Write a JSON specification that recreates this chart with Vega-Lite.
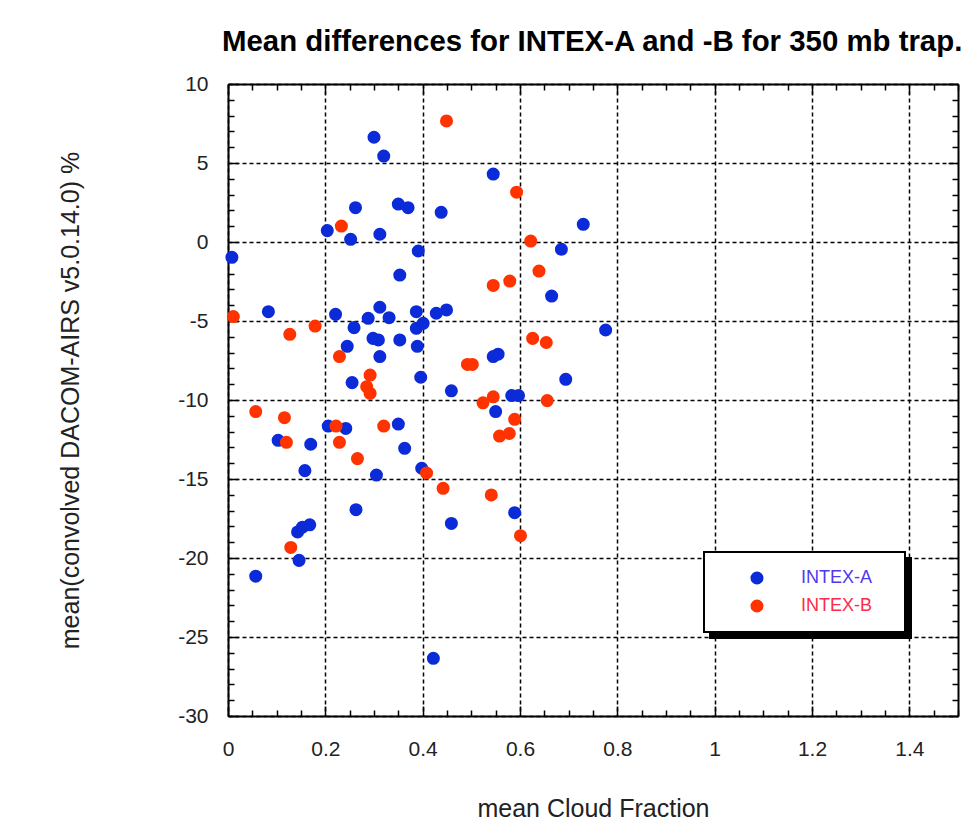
{
  "$schema": "https://vega.github.io/schema/vega-lite/v6.json",
  "width": 730,
  "height": 632,
  "autosize": {"type": "none"},
  "padding": {"left": 228, "top": 84, "right": 6, "bottom": 119},
  "background": "white",
  "title": {
    "text": "Mean differences for INTEX-A and -B for 350 mb trap.",
    "anchor": "start",
    "frame": "group",
    "font": "Liberation Sans",
    "fontSize": 29.4,
    "fontWeight": "bold",
    "color": "black",
    "baseline": "alphabetic",
    "dx": -6,
    "offset": -7
  },
  "config": {
    "view": {"stroke": null},
    "axis": {"labelFont": "Liberation Sans", "titleFont": "Liberation Sans"},
    "legend": {"labelFont": "Liberation Sans", "titleFont": "Liberation Sans"}
  },
  "data": {
    "values": [
      {"campaign": "INTEX-A", "cloud_fraction": 0.008, "mean_diff": -0.97},
      {"campaign": "INTEX-A", "cloud_fraction": 0.057, "mean_diff": -21.15},
      {"campaign": "INTEX-A", "cloud_fraction": 0.083, "mean_diff": -4.41},
      {"campaign": "INTEX-A", "cloud_fraction": 0.103, "mean_diff": -12.55},
      {"campaign": "INTEX-A", "cloud_fraction": 0.143, "mean_diff": -18.35},
      {"campaign": "INTEX-A", "cloud_fraction": 0.146, "mean_diff": -20.15},
      {"campaign": "INTEX-A", "cloud_fraction": 0.153, "mean_diff": -18.05},
      {"campaign": "INTEX-A", "cloud_fraction": 0.158, "mean_diff": -14.47},
      {"campaign": "INTEX-A", "cloud_fraction": 0.168, "mean_diff": -17.9},
      {"campaign": "INTEX-A", "cloud_fraction": 0.17, "mean_diff": -12.8},
      {"campaign": "INTEX-A", "cloud_fraction": 0.204, "mean_diff": 0.72},
      {"campaign": "INTEX-A", "cloud_fraction": 0.206, "mean_diff": -11.65},
      {"campaign": "INTEX-A", "cloud_fraction": 0.221, "mean_diff": -4.58},
      {"campaign": "INTEX-A", "cloud_fraction": 0.242, "mean_diff": -11.8},
      {"campaign": "INTEX-A", "cloud_fraction": 0.245, "mean_diff": -6.6},
      {"campaign": "INTEX-A", "cloud_fraction": 0.252, "mean_diff": 0.17},
      {"campaign": "INTEX-A", "cloud_fraction": 0.255, "mean_diff": -8.9},
      {"campaign": "INTEX-A", "cloud_fraction": 0.259, "mean_diff": -5.42},
      {"campaign": "INTEX-A", "cloud_fraction": 0.262, "mean_diff": 2.17},
      {"campaign": "INTEX-A", "cloud_fraction": 0.263, "mean_diff": -16.94},
      {"campaign": "INTEX-A", "cloud_fraction": 0.288, "mean_diff": -4.83},
      {"campaign": "INTEX-A", "cloud_fraction": 0.298, "mean_diff": -6.1},
      {"campaign": "INTEX-A", "cloud_fraction": 0.3, "mean_diff": 6.63},
      {"campaign": "INTEX-A", "cloud_fraction": 0.305, "mean_diff": -14.75},
      {"campaign": "INTEX-A", "cloud_fraction": 0.309, "mean_diff": -6.2},
      {"campaign": "INTEX-A", "cloud_fraction": 0.312, "mean_diff": 0.49},
      {"campaign": "INTEX-A", "cloud_fraction": 0.312, "mean_diff": -4.13},
      {"campaign": "INTEX-A", "cloud_fraction": 0.312, "mean_diff": -7.25},
      {"campaign": "INTEX-A", "cloud_fraction": 0.32, "mean_diff": 5.44},
      {"campaign": "INTEX-A", "cloud_fraction": 0.331, "mean_diff": -4.79},
      {"campaign": "INTEX-A", "cloud_fraction": 0.35, "mean_diff": 2.4},
      {"campaign": "INTEX-A", "cloud_fraction": 0.35, "mean_diff": -11.52},
      {"campaign": "INTEX-A", "cloud_fraction": 0.353, "mean_diff": -2.09},
      {"campaign": "INTEX-A", "cloud_fraction": 0.353, "mean_diff": -6.2},
      {"campaign": "INTEX-A", "cloud_fraction": 0.363, "mean_diff": -13.06},
      {"campaign": "INTEX-A", "cloud_fraction": 0.37, "mean_diff": 2.17},
      {"campaign": "INTEX-A", "cloud_fraction": 0.387, "mean_diff": -4.41},
      {"campaign": "INTEX-A", "cloud_fraction": 0.387, "mean_diff": -5.46},
      {"campaign": "INTEX-A", "cloud_fraction": 0.389, "mean_diff": -6.6},
      {"campaign": "INTEX-A", "cloud_fraction": 0.391, "mean_diff": -0.57},
      {"campaign": "INTEX-A", "cloud_fraction": 0.396, "mean_diff": -8.56},
      {"campaign": "INTEX-A", "cloud_fraction": 0.398, "mean_diff": -14.32},
      {"campaign": "INTEX-A", "cloud_fraction": 0.401, "mean_diff": -5.15},
      {"campaign": "INTEX-A", "cloud_fraction": 0.422, "mean_diff": -26.35},
      {"campaign": "INTEX-A", "cloud_fraction": 0.428, "mean_diff": -4.51},
      {"campaign": "INTEX-A", "cloud_fraction": 0.438, "mean_diff": 1.88},
      {"campaign": "INTEX-A", "cloud_fraction": 0.449, "mean_diff": -4.3},
      {"campaign": "INTEX-A", "cloud_fraction": 0.459, "mean_diff": -9.42},
      {"campaign": "INTEX-A", "cloud_fraction": 0.459, "mean_diff": -17.81},
      {"campaign": "INTEX-A", "cloud_fraction": 0.545, "mean_diff": 4.3},
      {"campaign": "INTEX-A", "cloud_fraction": 0.545, "mean_diff": -7.25},
      {"campaign": "INTEX-A", "cloud_fraction": 0.555, "mean_diff": -7.1},
      {"campaign": "INTEX-A", "cloud_fraction": 0.55, "mean_diff": -10.73},
      {"campaign": "INTEX-A", "cloud_fraction": 0.583, "mean_diff": -9.72},
      {"campaign": "INTEX-A", "cloud_fraction": 0.597, "mean_diff": -9.72},
      {"campaign": "INTEX-A", "cloud_fraction": 0.589, "mean_diff": -17.13},
      {"campaign": "INTEX-A", "cloud_fraction": 0.665, "mean_diff": -3.42},
      {"campaign": "INTEX-A", "cloud_fraction": 0.685, "mean_diff": -0.46},
      {"campaign": "INTEX-A", "cloud_fraction": 0.694, "mean_diff": -8.69},
      {"campaign": "INTEX-A", "cloud_fraction": 0.73, "mean_diff": 1.12},
      {"campaign": "INTEX-A", "cloud_fraction": 0.776, "mean_diff": -5.57},
      {"campaign": "INTEX-B", "cloud_fraction": 0.011, "mean_diff": -4.72},
      {"campaign": "INTEX-B", "cloud_fraction": 0.057, "mean_diff": -10.73},
      {"campaign": "INTEX-B", "cloud_fraction": 0.116, "mean_diff": -11.12},
      {"campaign": "INTEX-B", "cloud_fraction": 0.12, "mean_diff": -12.68},
      {"campaign": "INTEX-B", "cloud_fraction": 0.127, "mean_diff": -5.84},
      {"campaign": "INTEX-B", "cloud_fraction": 0.129, "mean_diff": -19.33},
      {"campaign": "INTEX-B", "cloud_fraction": 0.179, "mean_diff": -5.32},
      {"campaign": "INTEX-B", "cloud_fraction": 0.222, "mean_diff": -11.65},
      {"campaign": "INTEX-B", "cloud_fraction": 0.229, "mean_diff": -12.68},
      {"campaign": "INTEX-B", "cloud_fraction": 0.229, "mean_diff": -7.25},
      {"campaign": "INTEX-B", "cloud_fraction": 0.233, "mean_diff": 1.01},
      {"campaign": "INTEX-B", "cloud_fraction": 0.266, "mean_diff": -13.71},
      {"campaign": "INTEX-B", "cloud_fraction": 0.285, "mean_diff": -9.16},
      {"campaign": "INTEX-B", "cloud_fraction": 0.292, "mean_diff": -8.42},
      {"campaign": "INTEX-B", "cloud_fraction": 0.292, "mean_diff": -9.58},
      {"campaign": "INTEX-B", "cloud_fraction": 0.32, "mean_diff": -11.65},
      {"campaign": "INTEX-B", "cloud_fraction": 0.408, "mean_diff": -14.62},
      {"campaign": "INTEX-B", "cloud_fraction": 0.442, "mean_diff": -15.59},
      {"campaign": "INTEX-B", "cloud_fraction": 0.449, "mean_diff": 7.66},
      {"campaign": "INTEX-B", "cloud_fraction": 0.492, "mean_diff": -7.75},
      {"campaign": "INTEX-B", "cloud_fraction": 0.502, "mean_diff": -7.75},
      {"campaign": "INTEX-B", "cloud_fraction": 0.524, "mean_diff": -10.18},
      {"campaign": "INTEX-B", "cloud_fraction": 0.541, "mean_diff": -16.01},
      {"campaign": "INTEX-B", "cloud_fraction": 0.545, "mean_diff": -2.75},
      {"campaign": "INTEX-B", "cloud_fraction": 0.545, "mean_diff": -9.8},
      {"campaign": "INTEX-B", "cloud_fraction": 0.558, "mean_diff": -12.28},
      {"campaign": "INTEX-B", "cloud_fraction": 0.578, "mean_diff": -12.12},
      {"campaign": "INTEX-B", "cloud_fraction": 0.579, "mean_diff": -2.47},
      {"campaign": "INTEX-B", "cloud_fraction": 0.589, "mean_diff": -11.22},
      {"campaign": "INTEX-B", "cloud_fraction": 0.593, "mean_diff": 3.15},
      {"campaign": "INTEX-B", "cloud_fraction": 0.601, "mean_diff": -18.59},
      {"campaign": "INTEX-B", "cloud_fraction": 0.622, "mean_diff": 0.06},
      {"campaign": "INTEX-B", "cloud_fraction": 0.626, "mean_diff": -6.1},
      {"campaign": "INTEX-B", "cloud_fraction": 0.639, "mean_diff": -1.84},
      {"campaign": "INTEX-B", "cloud_fraction": 0.654, "mean_diff": -6.36},
      {"campaign": "INTEX-B", "cloud_fraction": 0.656, "mean_diff": -10.04}
    ]
  },
  "resolve": {"axis": {"x": "independent", "y": "independent"}},
  "layer": [
    {
      "mark": {"type": "point", "filled": true, "opacity": 1, "size": 170, "strokeWidth": 0},
      "encoding": {
        "x": {
          "field": "cloud_fraction",
          "type": "quantitative",
          "scale": {"domain": [0, 1.5], "nice": false, "zero": false},
          "axis": {
            "orient": "bottom",
            "title": "mean Cloud Fraction",
            "titleFontSize": 25,
            "titleFontWeight": "normal",
            "titleColor": "#222",
            "titlePadding": 37,
            "values": [0, 0.2, 0.4, 0.6, 0.8, 1, 1.2, 1.4],
            "labelExpr": "'' + datum.value",
            "labelFontSize": 21,
            "labelColor": "#222",
            "labelPadding": 22,
            "labelFlush": false,
            "labelOverlap": false,
            "ticks": false,
            "domain": true,
            "domainColor": "black",
            "domainWidth": 2,
            "grid": true,
            "gridColor": "black",
            "gridWidth": 1.5,
            "gridDash": [4, 3]
          }
        },
        "y": {
          "field": "mean_diff",
          "type": "quantitative",
          "scale": {"domain": [-30, 10], "nice": false, "zero": false},
          "axis": {
            "orient": "left",
            "title": "mean(convolved DACOM-AIRS v5.0.14.0) %",
            "titleFontSize": 25,
            "titleFontWeight": "normal",
            "titleColor": "#222",
            "titlePadding": 94,
            "values": [-30, -25, -20, -15, -10, -5, 0, 5, 10],
            "labelExpr": "'' + datum.value",
            "labelFontSize": 21,
            "labelColor": "#222",
            "labelPadding": 20,
            "labelFlush": false,
            "labelOverlap": false,
            "ticks": false,
            "domain": true,
            "domainColor": "black",
            "domainWidth": 2,
            "grid": true,
            "gridColor": "black",
            "gridWidth": 1.5,
            "gridDash": [4, 3]
          }
        },
        "color": {
          "field": "campaign",
          "type": "nominal",
          "scale": {"range": ["#0b2bd8", "#ff3300"]},
          "legend": {
            "orient": "none",
            "legendX": 482,
            "legendY": 474,
            "title": "\u200b",
            "titleOrient": "right",
            "titlePadding": 16,
            "titleFontSize": 8,
            "padding": 17,
            "fillColor": "black",
            "strokeColor": "black",
            "symbolType": "circle",
            "symbolSize": 170,
            "symbolOffset": 27,
            "symbolStrokeWidth": 0,
            "labelFontSize": 18,
            "labelOffset": 35,
            "labelColor": "black",
            "rowPadding": 10,
            "encoding": {
              "legend": {"strokeWidth": {"value": 2}},
              "symbols": {"fill": {"value": "black"}}
            }
          }
        },
        "shape": {
          "field": "campaign",
          "type": "nominal",
          "scale": {"domain": ["INTEX-A", "INTEX-B"], "range": ["circle", "circle"]},
          "legend": {
            "orient": "none",
            "legendX": 476,
            "legendY": 468,
            "title": "\u200b",
            "titleOrient": "right",
            "titlePadding": 16,
            "titleFontSize": 8,
            "padding": 17,
            "fillColor": "white",
            "strokeColor": "black",
            "symbolSize": 170,
            "symbolOffset": 27,
            "symbolStrokeWidth": 0,
            "labelFontSize": 18,
            "labelOffset": 35,
            "rowPadding": 10,
            "encoding": {
              "legend": {"strokeWidth": {"value": 2}},
              "symbols": {
                "fill": {"condition": {"test": "datum.value === 'INTEX-A'", "value": "#0b2bd8"}, "value": "#ff3300"}
              },
              "labels": {
                "fill": {"condition": {"test": "datum.value === 'INTEX-A'", "value": "#5038f0"}, "value": "#ff2a48"}
              }
            }
          }
        }
      }
    },
    {
      "mark": {"type": "point", "filled": true, "opacity": 0},
      "encoding": {
        "x": {
          "field": "cloud_fraction",
          "type": "quantitative",
          "axis": {
            "orient": "top",
            "title": null,
            "labels": false,
            "grid": false,
            "domain": true,
            "domainColor": "black",
            "domainWidth": 2,
            "values": [0, 0.05, 0.1, 0.15, 0.2, 0.25, 0.3, 0.35, 0.4, 0.45, 0.5, 0.55, 0.6, 0.65, 0.7, 0.75, 0.8, 0.85, 0.9, 0.95, 1, 1.05, 1.1, 1.15, 1.2, 1.25, 1.3, 1.35, 1.4, 1.45, 1.5],
            "ticks": true,
            "tickColor": "black",
            "tickWidth": 1.5,
            "tickSize": {"condition": {"test": "abs(datum.value * 5 - round(datum.value * 5)) < 0.000001", "value": -10}, "value": -6}
          }
        },
        "y": {
          "field": "mean_diff",
          "type": "quantitative",
          "axis": {
            "orient": "right",
            "title": null,
            "labels": false,
            "grid": false,
            "domain": true,
            "domainColor": "black",
            "domainWidth": 2,
            "values": [-30, -29, -28, -27, -26, -25, -24, -23, -22, -21, -20, -19, -18, -17, -16, -15, -14, -13, -12, -11, -10, -9, -8, -7, -6, -5, -4, -3, -2, -1, 0, 1, 2, 3, 4, 5, 6, 7, 8, 9, 10],
            "ticks": true,
            "tickColor": "black",
            "tickWidth": 1.5,
            "tickSize": {"condition": {"test": "datum.value % 5 === 0", "value": -10}, "value": -6}
          }
        }
      }
    },
    {
      "mark": {"type": "point", "filled": true, "opacity": 0},
      "encoding": {
        "x": {
          "field": "cloud_fraction",
          "type": "quantitative",
          "axis": {
            "orient": "bottom",
            "title": null,
            "labels": false,
            "grid": false,
            "domain": false,
            "values": [0, 0.05, 0.1, 0.15, 0.2, 0.25, 0.3, 0.35, 0.4, 0.45, 0.5, 0.55, 0.6, 0.65, 0.7, 0.75, 0.8, 0.85, 0.9, 0.95, 1, 1.05, 1.1, 1.15, 1.2, 1.25, 1.3, 1.35, 1.4, 1.45, 1.5],
            "ticks": true,
            "tickColor": "black",
            "tickWidth": 1.5,
            "tickSize": {"condition": {"test": "abs(datum.value * 5 - round(datum.value * 5)) < 0.000001", "value": -10}, "value": -6}
          }
        },
        "y": {
          "field": "mean_diff",
          "type": "quantitative",
          "axis": {
            "orient": "left",
            "title": null,
            "labels": false,
            "grid": false,
            "domain": false,
            "values": [-30, -29, -28, -27, -26, -25, -24, -23, -22, -21, -20, -19, -18, -17, -16, -15, -14, -13, -12, -11, -10, -9, -8, -7, -6, -5, -4, -3, -2, -1, 0, 1, 2, 3, 4, 5, 6, 7, 8, 9, 10],
            "ticks": true,
            "tickColor": "black",
            "tickWidth": 1.5,
            "tickSize": {"condition": {"test": "datum.value % 5 === 0", "value": -10}, "value": -6}
          }
        }
      }
    }
  ]
}
